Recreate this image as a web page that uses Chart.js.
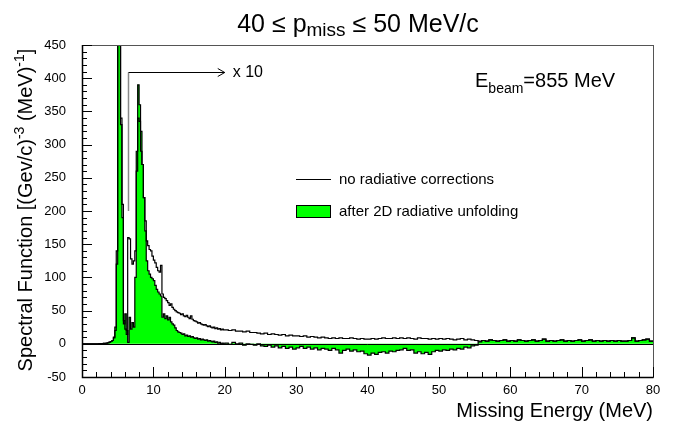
<!DOCTYPE html>
<html>
<head>
<meta charset="utf-8">
<script src="https://cdn.jsdelivr.net/npm/chart.js@4.4.0/dist/chart.umd.min.js"></script>
<style>
  html, body { margin: 0; padding: 0; background: #fff; }
  #wrap { width: 673px; height: 422px; }
</style>
</head>
<body>
<div id="wrap"><canvas id="chart" width="673" height="422"></canvas></div>
<script>
const FONT = '"Liberation Sans", Arial, Helvetica, sans-serif';

// missing energy bins 0-20 MeV, 0.2 MeV wide (above 6.5 MeV shown x10)
const fineWidth = 0.2;
const rawFine = [
  0, 0, 0, 0, 0, 0, 0, 0, 0, 0,
  0.1, 0.1, 0.2, 0.3, 0.4, 0.6, 0.8, 1.1, 1.6, 2.4,
  3.5, 5, 9, 20, 140, 600, 560, 340, 210, 35,
  22, 14, 160, 158, 128, 120, 125, 140, 260, 340,
  335, 290, 270, 220, 185, 155, 148, 142, 140, 132,
  126, 122, 115, 110, 108, 118, 75, 70, 68, 65,
  62, 58, 60, 55, 52, 50, 48, 47, 46, 44,
  45, 42, 41, 43, 40, 38, 42, 37, 35, 34,
  33, 31, 32, 30, 29, 28, 29, 27, 26, 27,
  25, 24, 25, 23, 24, 22, 23, 21, 22, 21
];
const unfFine = [
  0, 0, 0, 0, 0, 0, 0, 0, 0, 0,
  0.1, 0.1, 0.2, 0.3, 0.4, 0.6, 0.8, 1.1, 1.6, 2.4,
  3.5, 5, 10, 25, 120, 600, 600, 330, 190, 30,
  45, 20, 2, 40, 22, 32, 25, 100, 290, 390,
  360, 320, 270, 220, 170, 125, 110, 105, 100, 98,
  95, 88, 82, 78, 75, 72, 40, 45, 38, 42,
  36, 40, 33, 30, 28, 24, 20, 18, 17, 16,
  14, 15, 12, 13, 11, 12, 10, 11, 9, 8,
  9, 7, 8, 6, 7, 6, 5, 6, 4, 5,
  4, 3, 4, 2, 3, 1, 2, 0, 1, -1
];

// bins 20-80 MeV, 0.5 MeV wide
const tailStart = 20;
const tailWidth = 0.5;
const rawTail = [
  21, 20, 21, 19, 19, 18, 19, 17, 17, 16,
  15, 16, 14, 15, 14, 13, 14, 12, 13, 12,
  12, 11, 12, 10, 11, 10, 9, 10, 9, 8,
  9, 8, 9, 8, 8, 9, 8, 7, 8, 7,
  7, 8, 7, 8, 9, 8, 8, 9, 8, 9,
  8, 9, 8, 7, 9, 8, 8, 7, 8, 7,
  8, 7, 8, 7, 6, 7, 8, 6, 7, 6,
  5, 4, 5, 4, 6, 5, 4, 5, 6, 4,
  5, 4, 6, 5, 4, 5, 6, 4, 5, 7,
  4, 5, 4, 5, 6, 4, 5, 4, 5, 6,
  4, 5, 6, 4, 5, 4, 5, 4, 5, 4,
  5, 4, 4, 5, 9, 4, 5, 6, 7, 4
];
const unfTail = [
  1, -1, 2, 0, 1, -2, 0, -1, -2, 0,
  -3, -4, -2, -5, -3, -6, -4, -7, -5, -8,
  -6, -4, -7, -5, -8, -6, -9, -7, -8, -10,
  -7, -9, -14, -10, -8, -11, -9, -12, -11, -15,
  -17, -14, -16, -13, -12, -14, -11, -12, -10, -9,
  -7, -10, -9, -14, -12, -15, -13, -16, -12, -10,
  -11, -9, -10, -8, -9, -7, -8, -5, -6, -3,
  -2, 3, 5, 4, 6, 5, 4, 5, 6, 4,
  5, 4, 6, 5, 4, 5, 6, 4, 5, 7,
  4, 5, 4, 5, 6, 4, 5, 4, 5, 6,
  4, 5, 6, 4, 5, 4, 5, 4, 5, 4,
  5, 4, 4, 5, 9, 4, 5, 6, 7, 4
];

const xRange = [0, 80];
const yRange = [-50, 450];
const xMajor = 10, xMinor = 2;
const yMajor = 50, yMinor = 10;

// "x 10" marker: starts at 6.5 MeV, arrow to 20 MeV at height 410
const scaleMark = { from: 6.5, to: 20, low: 200, y: 410, label: 'x 10' };

function toSteps(fine, tail) {
  const pts = [];
  fine.forEach((v, i) => pts.push({ x: +(i * fineWidth).toFixed(2), y: v }));
  tail.forEach((v, i) => pts.push({ x: tailStart + i * tailWidth, y: v }));
  pts.push({ x: xRange[1], y: tail[tail.length - 1] });
  return pts;
}

function drawPieces(ctx, pieces, x, y) {
  let cx = x;
  pieces.forEach(p => {
    ctx.font = p.size + 'px ' + FONT;
    ctx.fillText(p.t, cx, y + (p.dy || 0));
    cx += ctx.measureText(p.t).width;
  });
}
function piecesWidth(ctx, pieces) {
  let w = 0;
  pieces.forEach(p => {
    ctx.font = p.size + 'px ' + FONT;
    w += ctx.measureText(p.t).width;
  });
  return w;
}

const framePlugin = {
  id: 'frame',
  afterDatasetsDraw(chart) {
    const ctx = chart.ctx, a = chart.chartArea;
    const xs = chart.scales.x, ys = chart.scales.y;
    ctx.save();
    ctx.strokeStyle = '#000';
    ctx.lineWidth = 1;
    // zero line
    const y0 = Math.round(ys.getPixelForValue(0)) + 0.5;
    ctx.beginPath();
    ctx.moveTo(a.left, y0);
    ctx.lineTo(a.right, y0);
    ctx.stroke();
    // box
    ctx.strokeStyle = '#555';
    ctx.strokeRect(a.left + 0.5, a.top + 0.5, a.right - a.left, a.bottom - a.top);
    ctx.strokeStyle = '#000';
    ctx.lineWidth = 1.5;
    ctx.beginPath();
    ctx.moveTo(a.left + 0.5, a.top);
    ctx.lineTo(a.left + 0.5, a.bottom + 0.5);
    ctx.lineTo(a.right + 0.5, a.bottom + 0.5);
    ctx.stroke();
    // inward ticks
    ctx.lineWidth = 1;
    ctx.beginPath();
    for (let v = xRange[0]; v <= xRange[1]; v += xMinor) {
      const px = Math.round(xs.getPixelForValue(v)) + 0.5;
      const len = v % xMajor === 0 ? 10 : 5;
      ctx.moveTo(px, a.bottom);
      ctx.lineTo(px, a.bottom - len);
    }
    for (let v = yRange[0]; v <= yRange[1]; v += yMinor) {
      const py = Math.round(ys.getPixelForValue(v)) + 0.5;
      const len = v % yMajor === 0 ? 10 : 5;
      ctx.moveTo(a.left, py);
      ctx.lineTo(a.left + len, py);
    }
    ctx.stroke();

    // x10 marker
    const mx = Math.round(xs.getPixelForValue(scaleMark.from)) + 0.5;
    const my = Math.round(ys.getPixelForValue(scaleMark.y)) + 0.5;
    const mlow = ys.getPixelForValue(scaleMark.low);
    const mto = xs.getPixelForValue(scaleMark.to);
    ctx.strokeStyle = '#888';
    ctx.lineWidth = 1.5;
    ctx.beginPath();
    ctx.moveTo(mx, mlow);
    ctx.lineTo(mx, my);
    ctx.stroke();
    ctx.strokeStyle = '#000';
    ctx.lineWidth = 1;
    ctx.beginPath();
    ctx.moveTo(mx, my);
    ctx.lineTo(mto, my);
    ctx.moveTo(mto - 7, my - 4);
    ctx.lineTo(mto, my);
    ctx.lineTo(mto - 7, my + 4);
    ctx.stroke();
    ctx.fillStyle = '#000';
    ctx.textBaseline = 'middle';
    ctx.font = '16px ' + FONT;
    ctx.fillText(scaleMark.label, mto + 8, my);
    ctx.restore();
  },
  afterDraw(chart) {
    const ctx = chart.ctx;
    ctx.save();
    ctx.fillStyle = '#000';
    ctx.textBaseline = 'alphabetic';
    ctx.textAlign = 'left';

    // title
    const title = [
      { t: '40 \u2264 p', size: 25 },
      { t: 'miss', size: 19, dy: 4 },
      { t: ' \u2264 50 MeV/c', size: 25 }
    ];
    drawPieces(ctx, title, 358 - piecesWidth(ctx, title) / 2, 32);

    // beam energy
    drawPieces(ctx, [
      { t: 'E', size: 20 },
      { t: 'beam', size: 14, dy: 6 },
      { t: '=855 MeV', size: 20 }
    ], 475, 87);

    // x axis title
    ctx.font = '20px ' + FONT;
    ctx.textAlign = 'right';
    ctx.fillText('Missing Energy (MeV)', 653, 417);
    ctx.textAlign = 'left';

    // y axis title
    const ytitle = [
      { t: 'Spectral Function [(Gev/c)', size: 20 },
      { t: '-3', size: 14, dy: -8 },
      { t: ' (MeV)', size: 20 },
      { t: '-1', size: 14, dy: -8 },
      { t: ']', size: 20 }
    ];
    ctx.save();
    ctx.translate(32, 210);
    ctx.rotate(-Math.PI / 2);
    drawPieces(ctx, ytitle, -piecesWidth(ctx, ytitle) / 2, 0);
    ctx.restore();

    // legend
    ctx.strokeStyle = '#000';
    ctx.lineWidth = 1;
    ctx.beginPath();
    ctx.moveTo(296, 179.5);
    ctx.lineTo(331, 179.5);
    ctx.stroke();
    ctx.fillStyle = '#00ff00';
    ctx.fillRect(296, 205, 35, 13);
    ctx.strokeRect(296.5, 205.5, 34, 12);
    ctx.fillStyle = '#000';
    ctx.font = '15px ' + FONT;
    ctx.textBaseline = 'middle';
    ctx.fillText('no radiative corrections', 339, 180);
    ctx.fillText('after 2D radiative unfolding', 339, 212);
    ctx.restore();
  }
};

new Chart(document.getElementById('chart'), {
  type: 'line',
  data: {
    datasets: [
      {
        label: 'no radiative corrections',
        data: toSteps(rawFine, rawTail),
        borderColor: '#000',
        borderWidth: 1.2,
        stepped: true,
        pointRadius: 0,
        fill: false
      },
      {
        label: 'after 2D radiative unfolding',
        data: toSteps(unfFine, unfTail),
        borderColor: '#000',
        borderWidth: 1.2,
        backgroundColor: '#00ff00',
        stepped: true,
        pointRadius: 0,
        fill: { target: 'origin', above: '#00ff00', below: '#00ff00' }
      }
    ]
  },
  options: {
    responsive: false,
    animation: false,
    devicePixelRatio: 1,
    layout: { padding: { top: 45, right: 20, left: 0, bottom: 0 } },
    plugins: { legend: { display: false }, tooltip: { enabled: false } },
    scales: {
      x: {
        type: 'linear',
        min: xRange[0],
        max: xRange[1],
        grid: { display: false, drawTicks: false },
        border: { display: false },
        ticks: { stepSize: xMajor, maxRotation: 0, color: '#000', padding: 6, font: { size: 13, family: FONT } },
        afterFit(s) { s.height = 45; }
      },
      y: {
        min: yRange[0],
        max: yRange[1],
        grid: { display: false, drawTicks: false },
        border: { display: false },
        ticks: { stepSize: yMajor, color: '#000', padding: 16, font: { size: 13, family: FONT } },
        afterFit(s) { s.width = 82; }
      }
    }
  },
  plugins: [framePlugin]
});
</script>
</body>
</html>
